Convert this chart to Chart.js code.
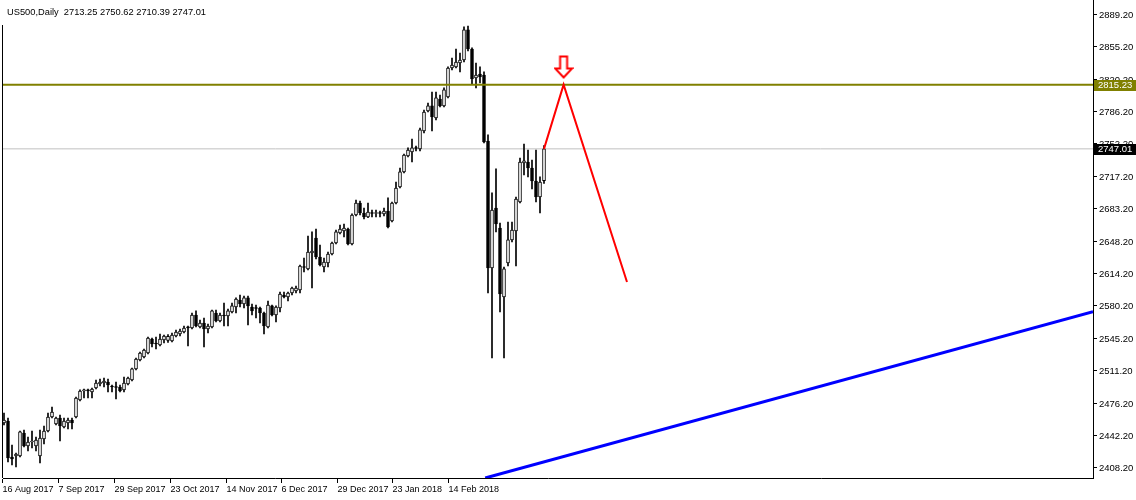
<!DOCTYPE html>
<html lang="en">
<head>
<meta charset="UTF-8">
<title>US500 Daily</title>
<style>
    html, body { margin: 0; padding: 0; background: #fff; }
    #wrap { width: 1136px; height: 500px; }
</style>
</head>
<body>
<div id="wrap"><canvas id="chart" width="1136" height="500"></canvas></div>

<script src="https://cdn.jsdelivr.net/npm/chart.js"></script>
<script>
    // daily candles (index 0 = 16 Aug 2017)
    const opens = [
        2455.9, 2458.0, 2419.8, 2420.9, 2420.9, 2445.3, 2431.5, 2435.7, 2431.5, 2420.9,
        2438.9, 2447.4, 2462.3, 2454.8, 2461.2, 2451.7, 2455.9, 2459.1, 2462.3, 2480.3,
        2489.9, 2491.0, 2488.8, 2493.1, 2497.3, 2498.4, 2499.4, 2495.2, 2494.6, 2494.1,
        2491.0, 2497.3, 2501.6, 2513.3, 2522.8, 2526.0, 2530.2, 2545.1, 2540.9, 2538.7,
        2544.1, 2543.5, 2543.0, 2548.3, 2550.4, 2552.5, 2557.9, 2556.8, 2570.6, 2557.9,
        2562.1, 2555.7, 2557.9, 2572.7, 2564.2, 2570.6, 2569.5, 2573.8, 2579.1, 2586.5,
        2582.3, 2588.7, 2579.1, 2578.0, 2578.0, 2572.7, 2557.9, 2580.2, 2570.6, 2578.0,
        2591.8, 2589.7, 2594.0, 2596.1, 2597.2, 2621.6, 2619.5, 2636.4, 2652.4, 2632.2,
        2621.6, 2625.8, 2635.4, 2647.1, 2657.7, 2659.8, 2661.9, 2646.0, 2676.8, 2689.5,
        2678.9, 2674.7, 2678.9, 2678.4, 2678.9, 2677.9, 2681.0, 2670.4, 2689.5, 2706.5,
        2722.5, 2739.5, 2743.7, 2748.0, 2746.9, 2766.0, 2787.3, 2792.6, 2779.8, 2800.0,
        2792.6, 2802.1, 2832.9, 2834.0, 2838.2, 2841.4, 2873.3, 2853.1, 2822.3, 2826.5,
        2825.5, 2755.4, 2620.5, 2684.2, 2663.0, 2589.7, 2625.8, 2650.3, 2659.8, 2690.6,
        2732.0, 2733.1, 2726.7, 2712.9, 2695.9, 2713.25
    ];
    const highs = [
        2466.5, 2461.2, 2432.5, 2424.0, 2447.4, 2448.5, 2441.0, 2447.4, 2441.0, 2448.5,
        2452.7, 2466.5, 2472.9, 2462.3, 2464.4, 2461.2, 2461.2, 2461.2, 2483.5, 2491.0,
        2492.0, 2492.0, 2493.1, 2501.6, 2502.6, 2503.7, 2502.6, 2496.3, 2499.4, 2496.3,
        2504.8, 2504.8, 2514.3, 2524.9, 2531.3, 2534.5, 2547.2, 2546.2, 2547.2, 2550.4,
        2549.4, 2549.8, 2551.5, 2554.7, 2555.7, 2558.9, 2558.9, 2572.7, 2574.9, 2565.3,
        2567.4, 2561.0, 2575.9, 2575.9, 2572.7, 2583.3, 2577.0, 2583.3, 2588.7, 2591.8,
        2590.8, 2590.8, 2582.3, 2581.2, 2579.1, 2573.8, 2585.5, 2581.2, 2580.2, 2595.0,
        2595.0, 2595.0, 2600.3, 2601.4, 2623.7, 2631.1, 2654.5, 2658.8, 2661.9, 2644.9,
        2631.1, 2637.5, 2648.1, 2660.9, 2666.2, 2667.2, 2663.0, 2677.9, 2692.7, 2691.7,
        2684.2, 2689.5, 2682.1, 2682.1, 2681.0, 2684.2, 2694.9, 2690.6, 2711.8, 2726.7,
        2741.6, 2748.0, 2757.5, 2750.1, 2769.2, 2788.3, 2795.7, 2807.4, 2807.4, 2804.2,
        2811.7, 2834.0, 2843.5, 2853.1, 2848.8, 2876.5, 2877.5, 2854.2, 2838.2, 2834.0,
        2828.7, 2761.8, 2700.2, 2725.7, 2668.3, 2621.6, 2669.4, 2669.4, 2695.9, 2737.3,
        2752.2, 2745.8, 2735.2, 2745.8, 2717.2, 2750.62
    ];
    const lows = [
        2453.8, 2414.5, 2411.3, 2409.2, 2419.8, 2430.4, 2426.2, 2429.4, 2426.2, 2413.4,
        2433.6, 2446.4, 2461.2, 2453.8, 2436.8, 2450.6, 2449.5, 2449.5, 2461.2, 2479.3,
        2482.5, 2482.5, 2482.5, 2492.0, 2495.2, 2494.1, 2488.8, 2488.8, 2481.4, 2488.8,
        2488.8, 2496.3, 2500.5, 2512.2, 2521.8, 2524.9, 2529.2, 2536.6, 2534.5, 2537.7,
        2540.9, 2541.6, 2541.9, 2547.2, 2548.3, 2551.5, 2537.7, 2555.7, 2557.9, 2556.8,
        2536.6, 2551.5, 2556.8, 2563.2, 2563.2, 2558.9, 2558.9, 2572.7, 2572.7, 2579.1,
        2578.0, 2560.0, 2570.6, 2567.4, 2562.1, 2550.4, 2556.8, 2569.5, 2563.2, 2573.8,
        2588.7, 2585.5, 2591.8, 2594.0, 2594.0, 2616.3, 2618.4, 2599.3, 2630.1, 2622.6,
        2616.3, 2621.6, 2634.3, 2646.0, 2656.6, 2653.4, 2644.9, 2644.9, 2675.7, 2676.8,
        2672.6, 2674.0, 2674.7, 2674.7, 2674.7, 2675.7, 2663.0, 2669.4, 2688.5, 2705.5,
        2721.4, 2738.4, 2733.1, 2744.8, 2744.8, 2763.9, 2786.2, 2766.0, 2777.7, 2791.5,
        2791.5, 2801.1, 2830.8, 2832.9, 2828.7, 2839.3, 2851.0, 2815.9, 2811.7, 2817.0,
        2753.3, 2594.0, 2524.9, 2658.8, 2573.8, 2524.9, 2622.6, 2648.1, 2622.6, 2689.5,
        2719.3, 2717.2, 2704.4, 2690.6, 2678.9, 2710.39
    ];
    const closes = [
        2459.1, 2418.7, 2417.7, 2423.0, 2446.4, 2431.5, 2435.7, 2436.8, 2437.9, 2440.0,
        2447.4, 2462.3, 2467.6, 2461.2, 2452.7, 2458.0, 2459.1, 2455.9, 2482.5, 2489.9,
        2491.0, 2489.9, 2492.0, 2498.4, 2499.4, 2500.5, 2496.3, 2494.1, 2493.6, 2489.9,
        2498.4, 2503.7, 2513.3, 2523.9, 2530.2, 2533.4, 2546.2, 2539.8, 2539.8, 2545.1,
        2548.3, 2548.0, 2549.4, 2552.5, 2553.6, 2556.8, 2556.8, 2570.6, 2558.9, 2562.1,
        2555.7, 2558.9, 2574.9, 2564.2, 2570.6, 2569.5, 2574.9, 2580.2, 2587.6, 2582.3,
        2588.7, 2580.2, 2574.9, 2577.5, 2572.7, 2558.9, 2581.2, 2570.6, 2579.1, 2592.9,
        2589.7, 2594.0, 2599.3, 2599.3, 2622.6, 2621.0, 2637.5, 2638.6, 2632.2, 2623.7,
        2626.9, 2635.4, 2647.1, 2658.8, 2661.9, 2663.0, 2646.0, 2676.8, 2689.5, 2678.9,
        2674.7, 2680.0, 2678.4, 2678.9, 2678.4, 2681.0, 2664.1, 2689.5, 2705.5, 2722.5,
        2740.5, 2745.8, 2748.0, 2747.4, 2767.1, 2786.2, 2792.6, 2780.9, 2801.1, 2792.6,
        2809.6, 2832.9, 2836.1, 2839.3, 2841.4, 2873.3, 2853.1, 2821.2, 2825.5, 2823.4,
        2754.3, 2620.5, 2682.1, 2667.2, 2592.9, 2619.5, 2650.3, 2660.9, 2693.8, 2733.1,
        2734.2, 2726.7, 2712.9, 2695.9, 2711.8, 2747.01
    ];

    // axes
    const yTickValues = [2889.20, 2855.20, 2820.20, 2786.20, 2752.20, 2717.20, 2683.20, 2648.20,
                         2614.20, 2580.20, 2545.20, 2511.20, 2476.20, 2442.20, 2408.20];
    const xTickBars = [-0.375, 13.625, 27.625, 41.625, 55.625, 69.375, 83.375, 97.125, 111.125];
    const xTickLabels = ['16 Aug 2017', '7 Sep 2017', '29 Sep 2017', '23 Oct 2017', '14 Nov 2017',
                         '6 Dec 2017', '29 Dec 2017', '23 Jan 2018', '14 Feb 2018'];
    const yMin = 2397.5, yMax = 2905.1;
    const xMin = -0.25, xMax = 272.25;

    // drawn objects
    const levelPrice = 2815.23;
    const lastPrice = 2747.01;
    const trendLine = [{ x: 120.3, y: 2397.5 }, { x: 272.25, y: 2574.0 }];
    const forecastLine = [{ x: 135, y: 2747.01 }, { x: 139.9, y: 2815.23 }, { x: 155.75, y: 2605.6 }];
    const arrowPoint = [{ x: 139.9, y: 2834.0 }];
    const titleText = 'US500,Daily  2713.25 2750.62 2710.39 2747.01';

    const FONT = '"Liberation Sans", Arial, sans-serif';

    const bodies = opens.map((o, i) => ({ x: i, y: [o, closes[i]] }));
    const wicks = opens.map((o, i) => ({ x: i, y: [lows[i], highs[i]] }));
    const bodyFill = opens.map((o, i) => closes[i] >= o ? '#ffffff' : '#000000');

    // hollow down arrow used as point style
    const arrowImg = document.createElement('canvas');
    arrowImg.width = 20;
    arrowImg.height = 24;
    (function () {
        const c = arrowImg.getContext('2d');
        c.beginPath();
        c.moveTo(6.5, 1.5); c.lineTo(13.5, 1.5); c.lineTo(13.5, 13.5);
        c.lineTo(18.5, 13.5); c.lineTo(10, 22.5); c.lineTo(1.5, 13.5);
        c.lineTo(6.5, 13.5); c.closePath();
        c.fillStyle = '#ffffff';
        c.fill();
        c.lineWidth = 2;
        c.strokeStyle = '#ff0000';
        c.stroke();
    })();

    const overlay = {
        id: 'overlay',
        afterDraw(chart) {
            const ctx = chart.ctx;
            const area = chart.chartArea;
            const ys = chart.scales.y;
            ctx.save();
            // left frame line
            ctx.strokeStyle = '#000';
            ctx.lineWidth = 1;
            ctx.beginPath();
            ctx.moveTo(area.left - 0.5, 25);
            ctx.lineTo(area.left - 0.5, area.bottom);
            ctx.stroke();
            // title
            ctx.font = '9.3px ' + FONT;
            ctx.fillStyle = '#000';
            ctx.textBaseline = 'middle';
            ctx.textAlign = 'left';
            ctx.fillText(titleText, 7, 12);
            // price tags on the axis
            ctx.font = '9.5px ' + FONT;
            [[levelPrice, '#808000'], [lastPrice, '#000000']].forEach(([v, col]) => {
                const y = Math.round(ys.getPixelForValue(v));
                ctx.fillStyle = col;
                ctx.fillRect(area.right + 1, y - 5, 43, 11);
                ctx.fillStyle = '#fff';
                ctx.fillText(v.toFixed(2), area.right + 5, y + 0.5);
            });
            ctx.restore();
        }
    };

    new Chart(document.getElementById('chart'), {
        type: 'bar',
        data: {
            datasets: [
                {
                    type: 'line', data: forecastLine, borderColor: '#ff0000', borderWidth: 2,
                    pointRadius: 0, clip: 0, order: 1
                },
                {
                    type: 'line', data: arrowPoint, showLine: false, pointStyle: arrowImg,
                    pointRadius: 10, clip: false, order: 0
                },
                {
                    type: 'line', data: [{ x: xMin, y: levelPrice }, { x: xMax, y: levelPrice }],
                    borderColor: '#808000', borderWidth: 2, pointRadius: 0, clip: 0, order: 2
                },
                {
                    type: 'line', data: trendLine, borderColor: '#0000ff', borderWidth: 3,
                    pointRadius: 0, clip: 0, order: 3
                },
                {
                    data: bodies, backgroundColor: bodyFill, borderColor: '#000', borderWidth: 1,
                    borderSkipped: false, barThickness: 3, minBarLength: 1, grouped: false, order: 4
                },
                {
                    data: wicks, backgroundColor: '#000', borderWidth: 0,
                    barThickness: 1, grouped: false, order: 5
                },
                {
                    type: 'line', data: [{ x: xMin, y: lastPrice }, { x: xMax, y: lastPrice }],
                    borderColor: '#c0c0c0', borderWidth: 1, pointRadius: 0, clip: 0, order: 6
                }
            ]
        },
        options: {
            responsive: false,
            animation: false,
            events: [],
            layout: { autoPadding: false, padding: { left: 3, top: 0, right: 0, bottom: 0 } },
            plugins: { legend: { display: false }, tooltip: { enabled: false } },
            scales: {
                x: {
                    type: 'linear', min: xMin, max: xMax, offset: false,
                    afterBuildTicks: s => { s.ticks = xTickBars.map(v => ({ value: v })); },
                    afterFit: s => { s.height = 22; s.paddingLeft = 0; s.paddingRight = 0; },
                    grid: { drawOnChartArea: false, offset: false, tickLength: 5, color: '#000' },
                    border: { display: true, color: '#000' },
                    ticks: {
                        autoSkip: false, maxRotation: 0, align: 'start', padding: 1, color: '#000',
                        font: { family: FONT, size: 9 },
                        callback: (v, i) => xTickLabels[i]
                    }
                },
                y: {
                    position: 'right', min: yMin, max: yMax, beginAtZero: false,
                    afterBuildTicks: s => { s.ticks = yTickValues.map(v => ({ value: v })); },
                    afterFit: s => { s.width = 43; s.paddingTop = 0; s.paddingBottom = 0; },
                    grid: { drawOnChartArea: false, tickLength: 4, color: '#000' },
                    border: { display: true, color: '#000' },
                    ticks: {
                        padding: 2, color: '#000',
                        font: { family: FONT, size: 9.5 },
                        callback: v => v.toFixed(2)
                    }
                }
            }
        },
        plugins: [overlay]
    });
</script>
</body>
</html>
